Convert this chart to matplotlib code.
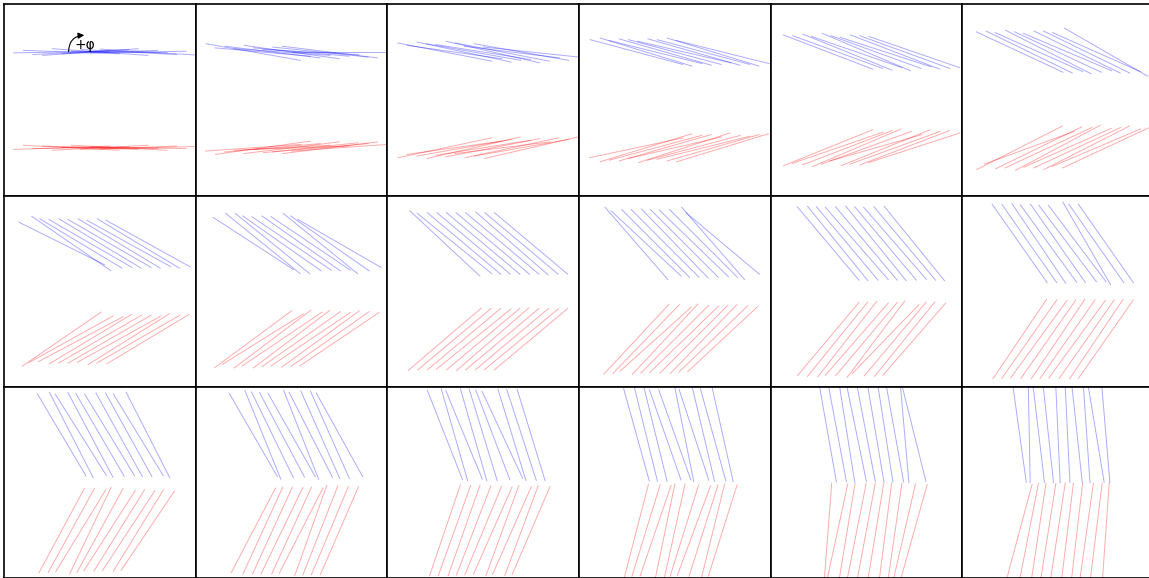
import numpy as np
import matplotlib
matplotlib.use('Agg')
import matplotlib.pyplot as plt

# mean tilt of each panel (degrees), 3 rows x 6 columns
angles = [0, 5, 10, 15, 20, 25,
          30, 35, 40, 45, 50, 55,
          60, 65, 70, 75, 80, 85]

# line centres (axes units), same in every panel
x_mid = [0.30, 0.35, 0.40, 0.45, 0.50, 0.55, 0.60, 0.65, 0.70, 0.75]
y_blue = 0.75
y_red = 0.25
half_len = 0.25

# per-line deviation from the panel angle (degrees)
blue_dev = [
    [-1, 2, -3, -4, 4, -2, 1, 3, -1, 3.5],
    [5, 0, 2, -1, 3, 0, -2, 1, 2, -5],
    [1, -2, 2, 0, -1, 3, 1, -3, 0, -4],
    [0, 2, -1, 1, 0, -2, 1, 0, 2, -1],
    [1, 0, 2, -1, 3, 0, -2, 1, 0, -1],
    [0, 1, -1, 2, 0, -2, 1, 1, -1, 5],
    [-3.5, 4.5, 1, 0, 1, 0, 1, -1, 1, -1],
    [-2, 4, 4, 0, -1, 0, -1, 4, 0, -5],
    [3, -1, 0, 0, 0, 0, 0, 1, 0, 0],
    [4, -2, 0, 0, 1, 0, -1, 0, 4, -5],
    [0, 1, 0, -1, 0, 1, 0, -1, 0, 1],
    [0, 0, 1, -1, 0, -2, -2, 5, 0, 0],
    [-0.6, 2.9, -2.1, 2, -0.3, -1.4, 1, 1, -1.4, 3],
    [-5, 3, -1, -3, -4.5, 3.5, -2, 1, 1, -4],
    [-1.5, 4, -2.4, 4, 3, -0.8, -5, 3, 2, 3],
    [-0.5, 1.2, 1.2, -4.3, -4.6, 3.6, -3.1, 1.7, -0.4, 2.4],
    [0, -0.6, 1, -1.6, -0.8, 0.4, 1.2, -0.2, 5, -4],
    [-2.9, 3.9, -1.7, -1.1, 2.4, 2.2, -1.1, 1.1, -4.4, 0.2],
]
red_dev = [
    [2, -3, 1, -2, 3, -1, -3, 2, -1, 1.5],
    [-1, 3, 0, -2, 2, -3, 1, 0, 2, -1],
    [2, -2, 0, 3, -1, 1, -3, 2, 0, 3],
    [-3, 2, 0, 1, -2, 3, 0, -1, 1, 2],
    [2, -1, 1, 3, 0, -4, 2, 0, 1, -2],
    [2, -5, 1, 0, 3, -1, 0, 2, -2, 0],
    [4.5, -1, -2, 1, 0, 0, -1, 2, 0, 1],
    [1.5, -3, 2, -1, 2, 0, -1, 1, 0, -1],
    [0.5, 0, 0, -1, 0, 1, 0, 0, -0.5, 0],
    [2, 1, -3, 2, 0, -1, 0, 1, -1, -2],
    [0, 1, 2, -1, 0, 3, -4, 0, 1, -1],
    [1, 0, -1, 0, 1, 0, -1, 0, 1, 0],
    [1.7, 1.2, -1.4, 4.5, 1.2, -2.6, -1.9, -3.2, -1.6, -3.9],
    [-2.6, 0.4, 0.4, -0.8, 0.4, -2.1, 5.5, 3.6, 2.3, 1.6],
    [1.3, 0.3, 0.6, -1.1, -2.5, -3.8, 0, -3.8, -0.4, -3.3],
    [0.5, -2.1, -3.8, 3.3, 2.6, -2.3, -5.3, -2.6, 1.1, -2.5],
    [5.6, -2.2, 0.6, -1.2, -0.6, 0.7, 2.7, 1.8, -3, -5.6],
    [-10, -6, -3.6, -4, -3.7, -2, -1.6, -3, -2, 1],
]

W, H = 1149, 578
fig = plt.figure(figsize=(W / 100, H / 100), dpi=100)

pw, ph = 191.6, 191.4
x0, y0 = 4.2, 4.2

for i in range(18):
    r, c = divmod(i, 6)
    left = x0 + c * pw
    top = y0 + r * ph
    ax = fig.add_axes([left / W, 1 - (top + ph) / H, pw / W, ph / H])
    ax.set_xlim(0, 1)
    ax.set_ylim(0, 1)
    ax.set_xticks([])
    ax.set_yticks([])
    for s in ax.spines.values():
        s.set_color('black')
        s.set_linewidth(1.2)

    for k, xm in enumerate(x_mid):
        a = np.radians(angles[i] + blue_dev[i][k])
        dx, dy = half_len * np.cos(a), half_len * np.sin(a)
        ax.plot([xm - dx, xm + dx], [y_blue + dy, y_blue - dy],
                color='blue', alpha=0.33, lw=0.7)
        a = np.radians(angles[i] + red_dev[i][k])
        dx, dy = half_len * np.cos(a), half_len * np.sin(a)
        ax.plot([xm - dx, xm + dx], [y_red - dy, y_red + dy],
                color='red', alpha=0.33, lw=0.7)

    if i == 0:
        ax.annotate('', xy=(0.418, 0.838), xytext=(0.336, 0.752),
                    arrowprops=dict(arrowstyle='-|>', color='black', lw=0.8,
                                    connectionstyle='arc3,rad=-0.45',
                                    mutation_scale=9, shrinkA=0, shrinkB=0))
        ax.text(0.42, 0.788, '+φ', fontsize=10, ha='center', va='center')

fig.savefig('out.png', dpi=100)
